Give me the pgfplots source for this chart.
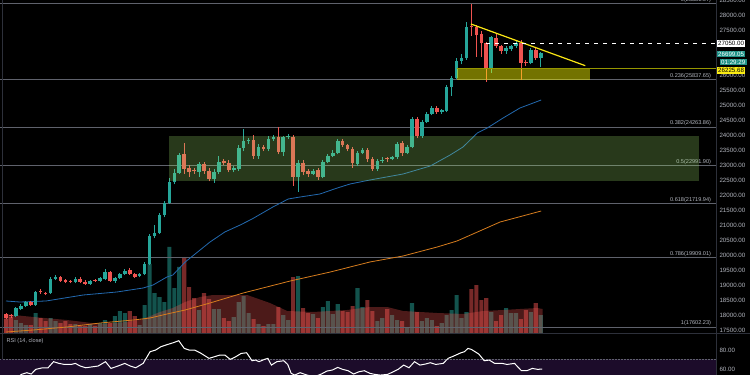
\documentclass[border=0pt]{standalone}
\usepackage{fontspec}
\setmainfont{Liberation Sans}
\usepackage{pgfplots}
\pgfplotsset{compat=1.18}
\usepackage{pgfplotstable}
\definecolor{up}{RGB}{38,166,154}
\definecolor{upd}{RGB}{30,145,135}
\definecolor{dn}{RGB}{239,83,80}
\definecolor{fibc}{RGB}{95,98,108}
\definecolor{lbl}{RGB}{178,181,190}
\definecolor{mab}{RGB}{35,105,175}
\definecolor{mao}{RGB}{215,125,30}
\definecolor{rsibg}{RGB}{28,12,42}
\definecolor{boxg}{RGB}{160,230,110}
\definecolor{boxy}{RGB}{255,255,0}
\definecolor{trend}{RGB}{250,230,20}
\definecolor{olivel}{RGB}{150,150,0}
\definecolor{sepc}{RGB}{45,48,58}
\definecolor{ylab}{RGB}{250,235,20}
\newcommand{\lf}{\fontsize{6.2}{7}\selectfont}
\newcommand{\ff}{\fontsize{5.6}{6.5}\selectfont}

\pgfplotstableread{
x lo hi wl wh v
2 17967 18233 17920 18280 13
3 18200 18300 18150 18350 10
4 18300 18433 18260 18480 8
6 18333 18767 18300 18800 20
9 18733 19200 18700 19250 15
10 19200 19267 19150 19330 12
14 19100 19200 19050 19250 9
17 19033 19133 19000 19180 9
19 19133 19233 19100 19280 10
20 19200 19433 19150 19520 13
22 19133 19233 19080 19270 17
23 19233 19367 19200 19400 22
24 19367 19467 19330 19520 20
27 19300 19367 19250 19400 8
28 19367 19700 19330 19750 28
29 19700 20633 19650 20700 69
30 20633 20733 20550 21000 40
31 20733 21333 20700 21400 36
32 21333 21733 21250 21800 31
33 21733 22433 21700 22550 86
34 22433 22733 22350 22850 45
35 22733 23333 22700 23400 66
39 22767 23033 22600 23100 23
42 22533 22767 22400 22850 24
43 22767 23100 22700 23300 24
46 22833 22900 22750 22950 16
47 22867 23567 22800 23650 31
48 23567 23800 23450 24200 37
49 23800 23833 23700 23900 20
51 23300 23600 23200 23700 9
53 23533 23867 23450 23950 9
54 23867 23933 23800 24000 9
56 23433 23933 23300 23980 18
57 23933 23967 23880 24020 13
59 22600 23067 22100 23150 57
62 22700 22800 22650 22850 19
64 22600 23100 22550 23150 26
65 23100 23300 23050 23350 32
66 23300 23400 23250 23500 19
67 23400 23800 23350 23850 29
71 23033 23400 22950 23450 45
72 23400 23500 23350 23550 26
75 22867 23133 22800 23200 12
76 23133 23167 23080 23250 15
78 23200 23267 23150 23300 18
79 23267 23700 23200 23750 13
81 23400 23600 23350 23650 5
82 23600 24533 23550 24600 30
84 23967 24433 23900 24500 12
85 24433 24700 24400 24750 15
86 24700 24900 24650 24950 13
88 24767 24833 24700 24880 10
89 24800 25600 24750 25650 18
90 25600 25900 25300 25950 23
91 25900 26467 25850 26550 38
92 26467 26567 26350 26700 15
93 26567 27600 26500 27750 21
98 26233 27267 26067 27300 21
101 26800 26900 26700 26950 25
102 26867 26967 26800 27000 20
103 26967 27067 26900 27150 20
106 26400 26833 26350 26900 21
108 26567 26733 26250 26780 18
}\upT

\pgfplotstableread{
x lo hi wl wh v
0 17900 18033 17850 18080 14
1 17950 17985 17900 18030 16
5 18333 18433 18300 18480 8
7 18750 18785 18700 18850 15
8 18700 18733 18650 18780 12
11 19133 19267 19100 19300 10
12 19100 19167 19050 19200 12
13 19100 19133 19050 19180 9
15 19100 19200 19060 19250 7
16 19033 19100 19000 19150 7
18 19133 19167 19100 19200 7
21 19133 19433 19100 19480 10
25 19367 19500 19330 19550 22
26 19267 19367 19230 19400 17
36 22867 23367 22700 23733 75
37 22767 22900 22600 23000 46
38 22785 22820 22700 22900 35
40 22800 23033 22700 23100 40
41 22533 22800 22450 22900 34
44 23067 23133 23000 23200 15
45 22833 23067 22750 23150 12
50 23300 23833 23200 24000 14
52 23533 23600 23450 23650 7
55 23433 23933 23350 24267 26
58 22600 23933 22300 24000 56
60 22767 23067 22650 23150 25
61 22700 22800 22600 22850 20
63 22600 22833 22500 22900 15
68 23667 23800 23600 23850 22
69 23533 23667 23450 23700 21
70 23067 23533 22900 23600 27
73 23200 23500 23100 23550 33
74 22867 23200 22800 23250 22
77 23185 23220 23100 23280 24
80 23400 23733 23300 23800 12
83 23967 24533 23900 24600 21
87 24767 24900 24700 24950 7
94 27600 27633 27300 28382 44
95 27333 27600 26600 27650 48
96 27067 27367 26600 27450 33
97 26233 27067 25767 27100 35
99 26967 27233 26900 27350 12
100 26800 26967 26700 27000 18
104 26400 27067 25833 27150 14
105 26400 26433 26300 26500 23
107 26567 26833 26500 26900 30
}\dnT

\pgfplotstableread{
x v
-0.4 19
5.5 16
12.3 13
19 9
24.4 11
27.7 14
31.1 21
33.7 25
36.2 31
39.2 36
41.8 38
48.7 38
53.3 30
56.8 22
62 21
68.9 23
73.5 26
77 26
80.2 22
87.1 20
92.3 19
96.4 22
100.4 23
107.3 25
108.4 24
}\vmaT

\pgfplotstableread{
x p
0 18467
2.8 18433
8.1 18467
15.6 18667
22.4 18767
27.7 18900
29.7 19000
32.5 19267
33.7 19333
36.2 19767
39.2 20167
41.2 20433
44.2 20767
47.3 21000
49.7 21200
53.9 21600
57.0 21867
59.4 21933
63.4 22033
66.9 22233
69.5 22367
73.5 22500
80.2 22700
85.7 22967
89.7 23333
92.3 23600
95.2 24067
97.2 24233
100.4 24567
103.8 24900
108.1 25167
}\blueT

\pgfplotstableread{
x p
0 17433
5.5 17500
12.3 17600
19.0 17733
25.7 17833
29.1 17900
32.5 18033
36.2 18167
41.2 18400
47.9 18733
57.4 19133
65.5 19433
73.5 19767
80.2 19967
87.1 20267
91.1 20467
99.8 21100
108.1 21467
}\orangeT

\pgfplotstableread{
x r
2.6 52.0
3.1 54.3
4.2 56.1
5.1 54.7
6.0 59.6
7.4 61.3
8.5 61.3
9.6 67.7
10.7 65.9
11.8 64.8
13.2 64.8
14.0 65.9
15.0 63.1
16.1 61.3
17.6 62.4
18.6 63.1
20.1 67.7
21.2 60.6
22.6 63.1
24.0 65.9
25.1 63.1
26.2 61.3
27.7 65.9
29.1 78.2
30.2 79.9
31.3 83.5
32.7 85.9
33.8 87.7
34.9 89.8
36.0 81.7
37.0 79.9
38.1 79.9
39.2 77.1
41.0 71.2
42.1 72.9
43.2 74.7
44.2 74.7
45.3 70.1
46.4 72.9
47.5 76.4
48.6 77.1
49.7 68.7
50.4 69.4
51.1 67.7
52.2 70.1
52.9 71.2
53.6 64.1
54.7 67.7
56.1 68.7
56.9 64.8
57.6 55.4
58.3 53.6
59.4 56.1
60.8 53.6
62.3 51.9
63.7 54.7
64.8 57.8
65.9 58.9
67.0 61.7
68.0 59.6
69.1 58.2
70.2 54.7
71.3 57.1
72.4 58.2
73.5 55.4
74.5 54.3
75.6 53.6
77.1 54.3
78.2 57.1
79.2 59.6
80.3 64.1
81.4 61.3
82.5 67.7
83.6 64.1
84.7 65.2
85.7 66.6
86.8 64.8
88.3 65.9
89.3 71.2
90.4 73.6
91.9 77.1
92.6 78.2
93.3 81.7
94.0 80.6
95.5 75.7
96.6 68.7
97.6 69.4
98.7 65.9
100.2 65.9
101.2 64.8
102.7 65.9
104.1 58.2
105.2 58.2
106.3 60.6
107.4 59.6
108.3 60.0
}\rsiT

\pgfplotsset{
  chartax/.style={scale only axis, at={(0bp,375bp)}, anchor=north west,
    width=716bp, height=333bp, xmin=-1.21, xmax=143.4,
    axis line style={draw=none}, xtick=\empty, major tick length=0pt},
  numfmt/.style={/pgf/number format/fixed, /pgf/number format/fixed zerofill,
    /pgf/number format/precision=2, /pgf/number format/1000 sep={},
    /pgf/number format/assume math mode=true, font=\lf, text=lbl}
}

\begin{document}
\begin{tikzpicture}
\path[use as bounding box] (0bp,0bp) rectangle (750bp,375bp);
\fill[black] (0bp,0bp) rectangle (750bp,375bp);

% volume
\begin{axis}[chartax, ymin=0, ymax=333, ytick=\empty]
\addplot[ybar, bar width=4.1bp, bar shift=0pt, fill=up, fill opacity=0.5, draw=none] table[x=x,y=v]{\upT};
\addplot[ybar, bar width=4.1bp, bar shift=0pt, fill=dn, fill opacity=0.5, draw=none] table[x=x,y=v]{\dnT};
\addplot[fill=dn, fill opacity=0.32, draw=none] table[x=x,y=v]{\vmaT} \closedcycle;
\end{axis}

% price
\begin{axis}[chartax, ymin=17400, ymax=28500,
  ytick={17500,18000,18500,19000,19500,20000,20500,21000,21500,22000,22500,23000,23500,24000,24500,25000,25500,26000,27500,28000,28500},
  yticklabel pos=right, scaled y ticks=false,
  y tick label style={numfmt}]
\pgfplotsinvokeforeach{28381.57,25837.65,24263.86,22991.90,21719.94,19909.01,17602.23}{
  \draw[fibc, line width=0.8bp] (axis cs:-1.21,#1) -- (axis cs:143.4,#1);}
\node[anchor=south east, font=\ff, text=lbl, inner sep=0.8bp] at (axis cs:142.6,28381.57) {0(28381.57)};
\node[anchor=south east, font=\ff, text=lbl, inner sep=0.8bp] at (axis cs:142.6,25837.65) {0.236(25837.65)};
\node[anchor=south east, font=\ff, text=lbl, inner sep=0.8bp] at (axis cs:142.6,24263.86) {0.382(24263.86)};
\node[anchor=south east, font=\ff, text=lbl, inner sep=0.8bp] at (axis cs:142.6,22991.90) {0.5(22991.90)};
\node[anchor=south east, font=\ff, text=lbl, inner sep=0.8bp] at (axis cs:142.6,21719.94) {0.618(21719.94)};
\node[anchor=south east, font=\ff, text=lbl, inner sep=0.8bp] at (axis cs:142.6,19909.01) {0.786(19909.01)};
\node[anchor=south east, font=\ff, text=lbl, inner sep=0.8bp] at (axis cs:142.6,17602.23) {1(17602.23)};

\addplot[mab, line width=0.8bp] table[x=x,y=p]{\blueT};
\addplot[mao, line width=0.8bp] table[x=x,y=p]{\orangeT};

% wicks
\addplot[draw=none, mark=none, error bars/.cd, y dir=plus, y explicit, error mark=none,
  error bar style={draw=up, line width=0.8bp}]
  table[x=x, y=wl, y error expr=\thisrow{wh}-\thisrow{wl}]{\upT};
\addplot[draw=none, mark=none, error bars/.cd, y dir=plus, y explicit, error mark=none,
  error bar style={draw=dn, line width=0.8bp}]
  table[x=x, y=wl, y error expr=\thisrow{wh}-\thisrow{wl}]{\dnT};
% bodies
\addplot[draw=none, mark=none, error bars/.cd, y dir=plus, y explicit, error mark=none,
  error bar style={draw=up, line width=3.6bp}]
  table[x=x, y=lo, y error expr=\thisrow{hi}-\thisrow{lo}]{\upT};
\addplot[draw=none, mark=none, error bars/.cd, y dir=plus, y explicit, error mark=none,
  error bar style={draw=dn, line width=3.6bp}]
  table[x=x, y=lo, y error expr=\thisrow{hi}-\thisrow{lo}]{\dnT};

% zones
\fill[boxg, fill opacity=0.25] (axis cs:32.9,22450) rectangle (axis cs:140,23950);
\fill[boxy, fill opacity=0.45] (axis cs:91.1,25837.65) rectangle (axis cs:118,26225.68);
\draw[olivel, line width=0.8bp] (axis cs:91.1,26225.68) -- (axis cs:143.4,26225.68);
\draw[trend, line width=1.2bp] (axis cs:93.9,27700) -- (axis cs:117,26310);
\draw[white, line width=0.8bp, dash pattern=on 4bp off 5bp] (axis cs:97,27050) -- (axis cs:143.4,27050);

\coordinate (c1) at (axis cs:143.4,27050);
\coordinate (c2) at (axis cs:143.4,26700);
\coordinate (c3) at (axis cs:143.4,26433);
\coordinate (c4) at (axis cs:143.4,26140);
\end{axis}

\node[anchor=west, fill=white, text=black, font=\lf, inner xsep=1.5bp, inner ysep=1.3bp] at ([xshift=0.5bp]c1) {27050.00};
\node[anchor=west, fill=upd, text=white, font=\lf, inner xsep=1.5bp, inner ysep=1.3bp] at ([xshift=0.5bp]c2) {26699.05};
\node[anchor=west, fill=upd, text=white, font=\lf, inner xsep=1.5bp, inner ysep=1.0bp] at ([xshift=3.5bp]c3) {01:29:29};
\node[anchor=west, fill=ylab, text=black, font=\lf, inner xsep=1.5bp, inner ysep=1.3bp] at ([xshift=0.5bp]c4) {26225.68};

% panel separators
\fill[black] (0bp,0bp) rectangle (750bp,41bp);
\draw[sepc, line width=1bp] (0bp,41.5bp) -- (750bp,41.5bp);
\draw[sepc, line width=0.8bp] (716.5bp,0bp) -- (716.5bp,375bp);
\draw[sepc, line width=0.8bp] (2.5bp,0bp) -- (2.5bp,375bp);

% RSI
\begin{axis}[at={(0bp,0bp)}, anchor=south west, scale only axis, width=716bp, height=40bp,
  xmin=-1.21, xmax=143.4, ymin=53.68, ymax=95.79,
  axis line style={draw=none}, xtick=\empty, major tick length=0pt,
  ytick={60,80}, yticklabel pos=right, y tick label style={numfmt}]
\fill[rsibg] (axis cs:-1.21,53.68) rectangle (axis cs:143.4,70);
\draw[fibc, line width=0.6bp, dash pattern=on 1.5bp off 1.5bp] (axis cs:-1.21,70) -- (axis cs:143.4,70);
\addplot[white, line width=1bp] table[x=x,y=r]{\rsiT};
\node[anchor=west, font=\ff, text=lbl, inner sep=0pt] at (rel axis cs:0.009,0.85) {RSI (14, close)};
\end{axis}
\end{tikzpicture}
\end{document}
